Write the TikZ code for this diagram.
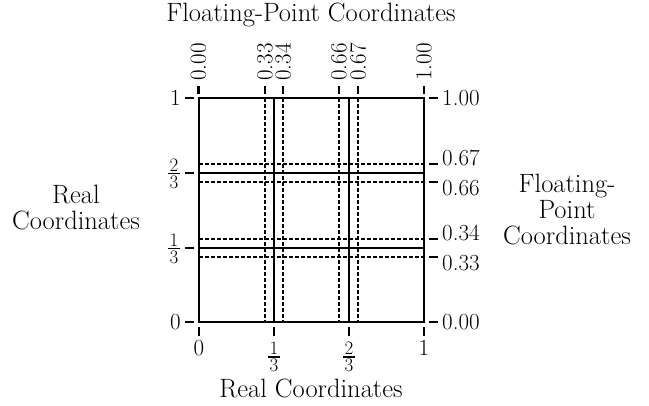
\RequirePackage{fix-cm}
\documentclass[tikz,border=0pt]{standalone}
\newcommand{\fracbox}[2]{{\fontsize{19}{19}\selectfont\vbox{\halign{\hfil\kern1.5pt##\kern1.5pt\hfil\cr #1\cr\noalign{\kern1.6pt\hrule height 1.4pt\kern1.6pt}#2\cr}}}}
\begin{document}
\begin{tikzpicture}[x=1pt,y=-1pt,
  frame/.style={line width=2.6pt},
  solidline/.style={line width=2.2pt},
  dashline/.style={line width=2pt, dash pattern=on 4pt off 2pt},
  tickline/.style={line width=2.4pt},
  ticklab/.style={font=\fontsize{23}{27}\selectfont, inner sep=0pt},
  axtitle/.style={font=\fontsize{26.5}{26}\selectfont, inner sep=0pt, align=center}]
\useasboundingbox (0,0) rectangle (649,405);
% frame corners
\coordinate (TL) at (199,98);
\coordinate (TR) at (424,98);
\coordinate (BL) at (199,322);
\coordinate (BR) at (424,322);
% dashed floating-point lines
\foreach \x in {265,283,339,358}
  \draw[dashline] (\x,98) -- (\x,322);
\foreach \y in {164,182,239,257}
  \draw[dashline] (199,\y) -- (424,\y);
% solid real lines
\foreach \x in {274,349}
  \draw[solidline] (\x,98) -- (\x,322);
\foreach \y in {173,248}
  \draw[solidline] (199,\y) -- (424,\y);
% frame
\draw[frame] (TL) -- (TR) -- (BR) -- (BL) -- cycle;
% top ticks and labels
\foreach \x/\t in {198.5/0.00,265/0.33,283/0.34,339/0.66,358/0.67,424/1.00}{
  \draw[tickline] (\x,86) -- (\x,94);
  \node[ticklab, rotate=90, anchor=west] at (\x,81) {\t};
}
% right ticks and labels
\foreach \y in {98,164,182,239,257,322}
  \draw[tickline] (429,\y) -- (438,\y);
\foreach \y/\t in {98/1.00,158/0.67,188/0.66,233/0.34,263/0.33,322/0.00}
  \node[ticklab, anchor=west] at (442,\y) {\t};
% left ticks and labels
\foreach \y in {98,173,248,322}
  \draw[tickline] (185,\y) -- (194,\y);
\node[ticklab, anchor=east] at (181,98) {1};
\node[ticklab, anchor=east] at (180,173.5) {\fracbox{2}{3}};
\node[ticklab, anchor=east] at (180,248.5) {\fracbox{1}{3}};
\node[ticklab, anchor=east] at (181,322) {0};
% bottom ticks and labels
\foreach \x in {199,274,349,424}
  \draw[tickline] (\x,327) -- (\x,336);
\node[ticklab, anchor=north] at (199,340) {0};
\node[ticklab, anchor=north] at (274,342) {\fracbox{1}{3}};
\node[ticklab, anchor=north] at (349,342) {\fracbox{2}{3}};
\node[ticklab, anchor=north] at (424,340) {1};
% axis titles
\node[axtitle, anchor=base] (ttop) at (311,21) {Floating-Point Coordinates};
\node[axtitle, anchor=base] (tbot) at (311,397) {Real Coordinates};
\node[axtitle] (tleft) at (76,208) {Real\\Coordinates};
\node[axtitle] (tright) at (567,210) {Floating-\\Point\\Coordinates};
\end{tikzpicture}
\end{document}
